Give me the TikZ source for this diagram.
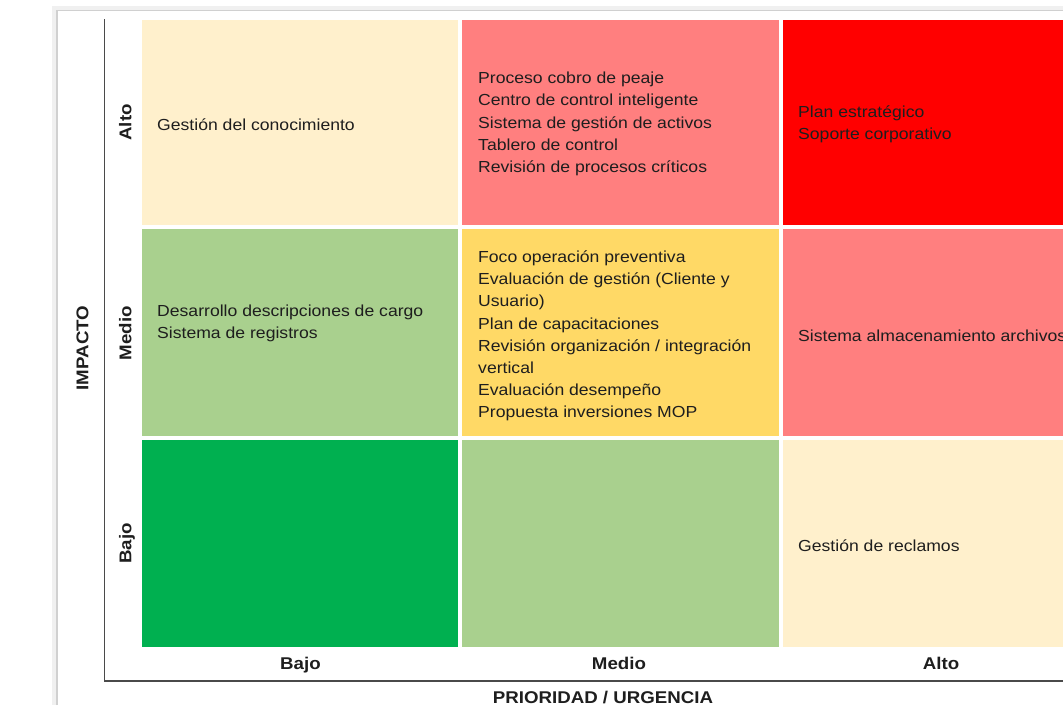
\documentclass[tikz,border=0pt]{standalone}
\usepackage{fontspec}
\setmainfont{Liberation Sans}[FakeStretch=1.1]
\definecolor{cYel}{HTML}{FFF0CC}
\definecolor{cSal}{HTML}{FF7F7F}
\definecolor{cRed}{HTML}{FF0000}
\definecolor{cLgr}{HTML}{A9D08E}
\definecolor{cGold}{HTML}{FFD966}
\definecolor{cGrn}{HTML}{00B050}
\definecolor{cTxt}{HTML}{1E1E1E}
\definecolor{cAxis}{HTML}{4A4A4A}
\definecolor{cFrame}{HTML}{D0D0D0}
\tikzset{
  celltext/.style={anchor=west, align=left, inner sep=0pt, text=cTxt,
    yshift=-1.5pt, font=\fontsize{16}{22.2}\selectfont},
  axlabel/.style={inner sep=0pt, text=cTxt, text height=12.5pt, text depth=0pt,
    font=\fontsize{17}{20}\selectfont\bfseries},
  axisline/.style={draw=cAxis, line width=1.6pt},
}
\begin{document}
\begin{tikzpicture}[x=1pt,y=-1pt]
\clip (0,0) rectangle (1063,705);
\fill[white] (0,0) rectangle (1063,705);
% frame with soft shadow
\fill[black!6] (52,6) rectangle (1063,11);
\fill[black!6] (52,6) rectangle (57,705);
\draw[cFrame, line width=1.2pt] (57,705) -- (57,10.5) -- (1063,10.5);
% cells
\fill[cYel]  (142,20)  rectangle (458,225);
\fill[cSal]  (462,20)  rectangle (779,225);
\fill[cRed]  (783,20)  rectangle (1100,225);
\fill[cLgr]  (142,229) rectangle (458,436);
\fill[cGold] (462,229) rectangle (779,436);
\fill[cSal]  (783,229) rectangle (1100,436);
\fill[cGrn]  (142,440) rectangle (458,647);
\fill[cLgr]  (462,440) rectangle (779,647);
\fill[cYel]  (783,440) rectangle (1100,647);
% axes
\coordinate (ytop) at (104.5,19);
\coordinate (origin) at (104.5,681);
\coordinate (xend) at (1070,681);
\draw[axisline] (ytop) -- (origin) -- (xend);
% cell texts
\node[celltext] (t11) at (157,123) {Gestión del conocimiento};
\node[celltext] (t12) at (478,122.5) {Proceso cobro de peaje\\Centro de control inteligente\\Sistema de gestión de activos\\Tablero de control\\Revisión de procesos críticos};
\node[celltext] (t13) at (798,123) {Plan estratégico\\Soporte corporativo};
\node[celltext] (t21) at (157,322) {Desarrollo descripciones de cargo\\Sistema de registros};
\node[celltext] (t22) at (478,334.5) {Foco operación preventiva\\Evaluación de gestión (Cliente y\\Usuario)\\Plan de capacitaciones\\Revisión organización / integración\\vertical\\Evaluación desempeño\\Propuesta inversiones MOP};
\node[celltext] (t23) at (798,334) {Sistema almacenamiento archivos};
\node[celltext] (t33) at (798,544) {Gestión de reclamos};
% axis labels
\node[axlabel] (cb) at (300.5,663) {Bajo};
\node[axlabel] (cm) at (619,663) {Medio};
\node[axlabel] (ca) at (941,663) {Alto};
\node[axlabel, rotate=90] (ra) at (125,122.5) {Alto};
\node[axlabel, rotate=90] (rm) at (125,333) {Medio};
\node[axlabel, rotate=90] (rb) at (125,543.5) {Bajo};
\node[axlabel, rotate=90] (yl) at (82,348) {IMPACTO};
\node[axlabel] (xl) at (603,697) {PRIORIDAD / URGENCIA};
\end{tikzpicture}
\end{document}
